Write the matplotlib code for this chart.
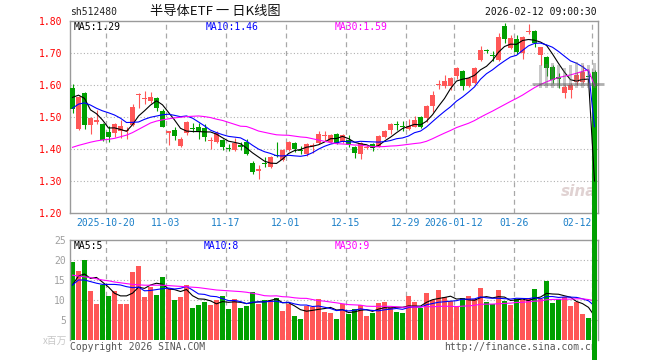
import numpy as np
import pandas as pd
import matplotlib
matplotlib.use("Agg")
import matplotlib.pyplot as plt

# ---------------- data ----------------
opens = [1.590, 1.460, 1.573, 1.474, 1.484, 1.476, 1.452, 1.448, 1.456, 1.456,
         1.474, 1.568, 1.554, 1.548, 1.559, 1.518, 1.450, 1.458, 1.408, 1.450,
         1.465, 1.467, 1.463, 1.425, 1.420, 1.427, 1.403, 1.396, 1.410, 1.422,
         1.356, 1.331, 1.356, 1.343, 1.381, 1.364, 1.396, 1.418, 1.395, 1.383,
         1.408, 1.417, 1.439, 1.422, 1.446, 1.422, 1.427, 1.406, 1.383, 1.402,
         1.413, 1.406, 1.435, 1.458, 1.478, 1.470, 1.461, 1.468, 1.499, 1.495,
         1.534, 1.600, 1.597, 1.597, 1.628, 1.643, 1.597, 1.604, 1.677, 1.709,
         1.692, 1.677, 1.784, 1.713, 1.742, 1.700, 1.763, 1.769, 1.691, 1.686,
         1.656, 1.622, 1.573, 1.583, 1.609, 1.609, 1.627, 1.640]
highs = [1.601, 1.565, 1.577, 1.500, 1.520, 1.479, 1.470, 1.479, 1.489, 1.467,
         1.538, 1.575, 1.581, 1.578, 1.561, 1.523, 1.456, 1.468, 1.437, 1.487,
         1.479, 1.479, 1.476, 1.437, 1.454, 1.430, 1.413, 1.432, 1.422, 1.429,
         1.360, 1.349, 1.373, 1.377, 1.422, 1.399, 1.424, 1.422, 1.408, 1.416,
         1.417, 1.455, 1.455, 1.446, 1.450, 1.446, 1.443, 1.408, 1.420, 1.410,
         1.416, 1.441, 1.458, 1.479, 1.486, 1.486, 1.491, 1.501, 1.501, 1.535,
         1.580, 1.614, 1.629, 1.625, 1.654, 1.646, 1.625, 1.656, 1.722, 1.711,
         1.705, 1.760, 1.792, 1.756, 1.756, 1.752, 1.789, 1.772, 1.719, 1.690,
         1.660, 1.635, 1.600, 1.605, 1.640, 1.662, 1.632, 1.645]
lows = [1.512, 1.457, 1.460, 1.446, 1.476, 1.425, 1.422, 1.437, 1.432, 1.429,
        1.471, 1.526, 1.539, 1.542, 1.518, 1.466, 1.411, 1.427, 1.404, 1.443,
        1.453, 1.430, 1.425, 1.400, 1.416, 1.396, 1.393, 1.393, 1.396, 1.380,
        1.322, 1.305, 1.343, 1.340, 1.375, 1.360, 1.394, 1.388, 1.383, 1.376,
        1.385, 1.415, 1.425, 1.419, 1.415, 1.418, 1.406, 1.370, 1.367, 1.398,
        1.392, 1.404, 1.432, 1.447, 1.458, 1.455, 1.458, 1.467, 1.465, 1.482,
        1.515, 1.586, 1.590, 1.583, 1.617, 1.582, 1.593, 1.602, 1.675, 1.700,
        1.675, 1.675, 1.729, 1.710, 1.695, 1.680, 1.757, 1.718, 1.662, 1.628,
        1.605, 1.590, 1.559, 1.559, 1.600, 1.605, 1.618, 0.000]
closes = [1.525, 1.562, 1.474, 1.496, 1.488, 1.427, 1.437, 1.476, 1.471, 1.459,
          1.531, 1.572, 1.558, 1.560, 1.526, 1.468, 1.454, 1.440, 1.429, 1.483,
          1.461, 1.453, 1.435, 1.428, 1.449, 1.404, 1.400, 1.417, 1.406, 1.383,
          1.328, 1.335, 1.352, 1.375, 1.378, 1.396, 1.422, 1.398, 1.392, 1.414,
          1.410, 1.446, 1.441, 1.443, 1.418, 1.443, 1.411, 1.385, 1.417, 1.405,
          1.401, 1.439, 1.456, 1.477, 1.475, 1.467, 1.471, 1.489, 1.468, 1.533,
          1.568, 1.603, 1.611, 1.622, 1.651, 1.597, 1.622, 1.653, 1.708, 1.706,
          1.689, 1.750, 1.742, 1.745, 1.703, 1.749, 1.766, 1.730, 1.717, 1.651,
          1.614, 1.619, 1.593, 1.599, 1.630, 1.640, 1.624, 0.000]
volumes = [19.6, 17.3, 20.0, 12.3, 9.0, 13.75, 11.1, 12.3, 9.0, 9.0,
           17.1, 18.6, 10.8, 13.2, 11.25, 15.8, 12.75, 10.0, 10.8, 13.75,
           8.1, 8.75, 9.6, 8.75, 10.0, 11.0, 7.75, 10.25, 8.1, 8.5,
           12.0, 9.0, 10.0, 10.0, 10.4, 7.25, 9.0, 6.0, 5.25, 8.5,
           8.3, 10.25, 7.0, 6.7, 5.25, 8.9, 6.5, 7.75, 8.75, 6.0,
           6.8, 9.3, 9.6, 8.2, 7.0, 6.75, 11.0, 9.5, 8.1, 11.75,
           10.0, 12.5, 10.8, 9.7, 8.2, 10.5, 11.0, 10.25, 13.0, 9.5,
           8.9, 12.5, 9.75, 8.75, 10.2, 10.0, 10.5, 12.75, 10.25, 14.8,
           9.2, 10.2, 10.8, 8.5, 9.5, 6.5, 5.5, 0.0]

# moving-average values before enough history is visible
ma5_head = [1.560, 1.567, 1.557, 1.521]
ma10_head = [1.526, 1.539, 1.543, 1.536, 1.526, 1.518, 1.512, 1.505, 1.495]
ma30_head = [1.404, 1.410, 1.415, 1.420, 1.424, 1.427, 1.429, 1.432, 1.437, 1.442,
             1.450, 1.460, 1.470, 1.480, 1.486, 1.490, 1.493, 1.496, 1.498, 1.500,
             1.501, 1.502, 1.500, 1.497, 1.492, 1.488, 1.482, 1.476, 1.470]
vma5_head = [13.75, 16.0, 16.5, 15.4]
vma10_head = [13.75, 15.0, 15.0, 14.6, 14.2, 13.9, 13.9, 13.9, 13.75]
vma30_head = [16.2, 16.0, 15.8, 15.6, 15.3, 15.0, 14.8, 14.5, 14.3, 14.1,
              13.9, 13.8, 13.7, 13.7, 13.7, 13.7, 13.6, 13.5, 13.4, 13.3,
              13.2, 13.1, 12.9, 12.7, 12.5, 12.4, 12.3, 12.2, 12.1]

# faint grey ghost smear over the last bars (rendering artefact in the source)
ghost_idx = [78, 79, 80, 81, 82, 83, 84, 85, 86, 87]
ghost_top = [1.660, 1.665, 1.668, 1.660, 1.652, 1.660, 1.672, 1.668, 1.662, 1.668]
ghost_bottom = [1.590, 1.590, 1.588, 1.590, 1.592, 1.590, 1.588, 1.590, 1.590, 1.588]
ghost_line_level = 1.602

tick_idx = [6, 16, 26, 36, 46, 56, 64, 74, 87]
tick_labels = ["2025-10-20", "11-03", "11-17", "12-01", "12-15", "12-29",
               "2026-01-12", "01-26", "02-12"]
price_ticks = [1.20, 1.30, 1.40, 1.50, 1.60, 1.70, 1.80]
vol_ticks = [5, 10, 15, 20, 25]

# ---------------- styling ----------------
RED = "#ff5757"
GREEN = "#00a000"
MONO = "DejaVu Sans Mono"
W, H = 660, 360

def ma(values, n, head):
    s = pd.Series(values, dtype=float).rolling(n).mean().to_numpy()
    s[:len(head)] = head
    return s

o = np.array(opens); c = np.array(closes)
hi = np.array(highs); lo = np.array(lows)
v = np.array(volumes)
n = len(c)
x = np.arange(n)
cols = np.where(c >= o, RED, GREEN)

fig = plt.figure(figsize=(W / 100, H / 100), dpi=100)
fig.patch.set_facecolor("white")

def rect(l, t, r, b):
    return [l / W, 1 - b / H, (r - l) / W, (b - t) / H]

ax = fig.add_axes(rect(70, 20.6, 598, 212.6), zorder=5)
ax.patch.set_alpha(0)
axv = fig.add_axes(rect(70, 240, 598, 340), zorder=1)

xl = (-5 / 12, (598 - 72.5) / 6)
for a in (ax, axv):
    a.set_xlim(*xl)
    for s in a.spines.values():
        s.set_color("#9a9a9a")
        s.set_linewidth(1.0)
    for i in tick_idx:
        a.axvline(i - 5 / 12, color="#a8a8a8", lw=0.9, ls=(0, (4, 3)), zorder=1)
axv.spines["bottom"].set_visible(False)

ax.set_ylim(1.20, 1.80)
axv.set_ylim(0, 25)
for yv in price_ticks[1:-1]:
    ax.axhline(yv, color="#b0b0b0", lw=0.8, ls=(0, (1, 2)), zorder=1)
for yv in vol_ticks[:-1]:
    axv.axhline(yv, color="#b0b0b0", lw=0.8, ls=(0, (1, 2)), zorder=1)

# candles
body_lo = np.minimum(o, c)
body_h = np.maximum(np.abs(c - o), 0.0032)
ax.vlines(x, lo, hi, colors=cols, lw=0.8, zorder=3, clip_on=False)
ax.bar(x, body_h, bottom=body_lo, width=5 / 6, color=cols, linewidth=0,
       zorder=4, clip_on=False)

ax.plot(x, ma(c, 5, ma5_head), color="black", lw=0.8, zorder=6)
ax.plot(x, ma(c, 10, ma10_head), color="#0000ff", lw=0.8, zorder=6)
ax.plot(x, ma(c, 30, ma30_head), color="#ff00ff", lw=0.8, zorder=6)

# ghost smear
gt = np.array(ghost_top); gb = np.array(ghost_bottom)
ax.bar(ghost_idx, gt - gb, bottom=gb, width=0.55, color="#707070", alpha=0.38,
       linewidth=0, zorder=7, clip_on=False)
ax.hlines(ghost_line_level, ghost_idx[0] - 1.5, ghost_idx[-1] + 1.6,
          color="#606060", alpha=0.5, lw=2.0, zorder=7, clip_on=False)

# volume
axv.bar(x, v, width=5 / 6, color=cols, linewidth=0, zorder=2)
axv.plot(x, ma(v, 5, vma5_head), color="black", lw=0.8, zorder=3)
axv.plot(x, ma(v, 10, vma10_head), color="#0000ff", lw=0.8, zorder=3)
axv.plot(x, ma(v, 30, vma30_head), color="#ff00ff", lw=0.8, zorder=3)

# ticks
ax.set_yticks(price_ticks)
ax.set_yticklabels(["%.2f" % t for t in price_ticks], color="#ff0000",
                   fontsize=7, family=MONO)
ax.tick_params(axis="y", length=0, pad=5.8)
ax.set_xticks([i - 5 / 12 for i in tick_idx])
ax.set_xticklabels(tick_labels, color="#1a7fc8", fontsize=7, family=MONO)
ax.tick_params(axis="x", length=0, pad=4)
ax.get_xticklabels()[-1].set_horizontalalignment("right")

axv.set_xticks([])
axv.set_yticks(vol_ticks)
axv.set_yticklabels([str(t) for t in vol_ticks], color="#a0a0a0",
                    fontsize=7, family=MONO)
axv.tick_params(axis="y", length=0, pad=3)

def ftext(px, py, s, **kw):
    kw.setdefault("va", "center")
    kw.setdefault("family", MONO)
    kw.setdefault("fontsize", 7)
    fig.text(px / W, 1 - py / H, s, **kw)

ftext(70, 12, "sh512480", color="#222222")
ftext(150, 12, "半导体ETF 一 日K线图", family=["Noto Sans CJK SC", "DejaVu Sans"],
      fontsize=9.5, color="#111111")
ftext(597, 12, "2026-02-12 09:00:30", ha="right", color="#111111")
ftext(74, 27, "MA5:1.29", color="black")
ftext(206, 27, "MA10:1.46", color="#0000ff")
ftext(335, 27, "MA30:1.59", color="#ff00ff")
ftext(74, 246, "MA5:5", color="black")
ftext(204, 246, "MA10:8", color="#0000ff")
ftext(335, 246, "MA30:9", color="#ff00ff")
ftext(67, 341, "x百万", ha="right", color="#c8c8c8",
      family=["Noto Sans CJK SC", "DejaVu Sans"], fontsize=7)
ftext(70, 347, "Copyright 2026 SINA.COM", color="#555555")
ftext(597, 347, "http://finance.sina.com.cn", ha="right", color="#555555")
ftext(579, 192, "sina", ha="center", color="#e0d2d2", family="DejaVu Sans",
      fontsize=11, style="italic", weight="bold")

fig.savefig("out.png", dpi=100, facecolor="white")
